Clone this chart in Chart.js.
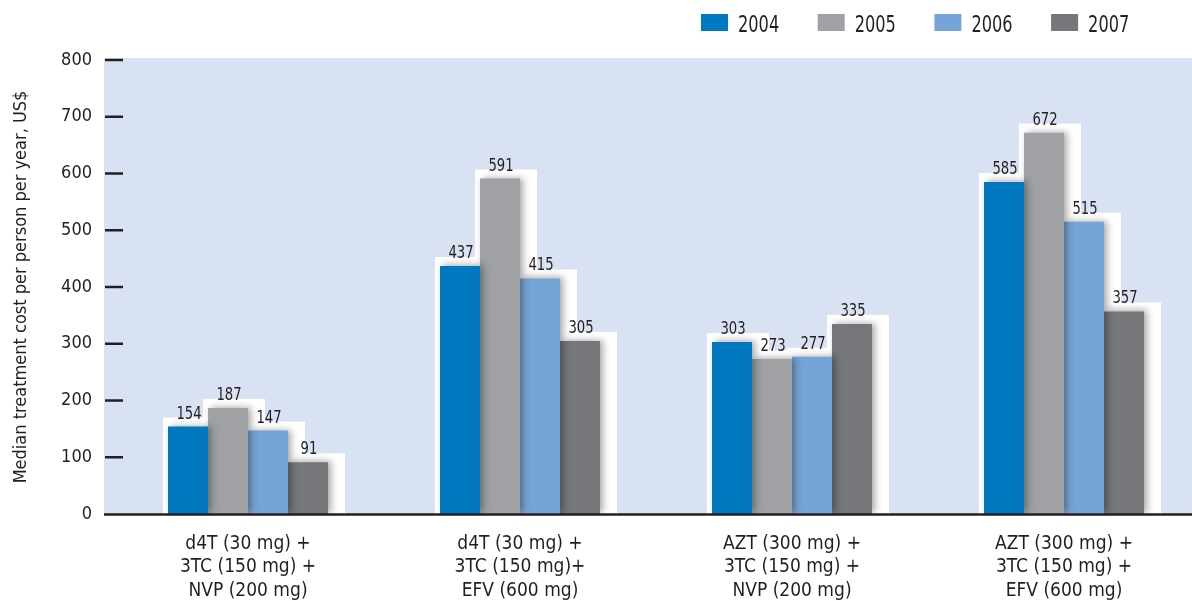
<!DOCTYPE html>
<html><head><meta charset="utf-8">
<script src="https://cdn.jsdelivr.net/npm/chart.js@4.4.1/dist/chart.umd.min.js"></script>
<style>
html,body{margin:0;padding:0;background:#fff;overflow:hidden;width:1192px;height:601px}
#wrap{position:absolute;left:0;top:0;width:1200px;height:601px}
</style></head>
<body><div id="wrap"><canvas id="c" width="1200" height="601"></canvas></div>
<script>
const categories = [
  ['d4T (30 mg) +', '3TC (150 mg) +', 'NVP (200 mg)'],
  ['d4T (30 mg) +', '3TC (150 mg)+', 'EFV (600 mg)'],
  ['AZT (300 mg) +', '3TC (150 mg) +', 'NVP (200 mg)'],
  ['AZT (300 mg) +', '3TC (150 mg) +', 'EFV (600 mg)']
];
const years = ['2004', '2005', '2006', '2007'];
const v2004 = [154, 437, 303, 585];
const v2005 = [187, 591, 273, 672];
const v2006 = [147, 415, 277, 515];
const v2007 = [91, 305, 335, 357];
const yMin = 0, yMax = 800, yStep = 100;
const yTitle = 'Median treatment cost per person per year, US$';

const colors = ['#0079c1', '#a0a1a4', '#75a5d6', '#76777b'];
const INK = '#231f20';
const CONDENSED = "'DejaVu Sans Condensed', 'Liberation Sans Narrow', sans-serif";

const series = [v2004, v2005, v2006, v2007];

function squeezedText(ctx, text, x, y, sx) {
  ctx.save();
  ctx.translate(x, y);
  ctx.scale(sx, 1);
  ctx.fillText(text, 0, 0);
  ctx.restore();
}

const deco = {
  id: 'deco',
  beforeDraw(chart) {
    const {ctx, chartArea: a} = chart;
    ctx.save();
    ctx.fillStyle = '#d9e2f2';
    ctx.fillRect(104, a.top - 2, chart.width - 104, a.bottom - a.top + 2);
    ctx.restore();
  },
  beforeDatasetsDraw(chart) {
    const {ctx} = chart;
    ctx.save();
    ctx.fillStyle = '#ffffff';
    chart.data.datasets.forEach((ds, i) => {
      chart.getDatasetMeta(i).data.forEach(el => {
        const l = el.x - el.width / 2 - 5;
        const r = el.x + el.width / 2 + 17;
        const t = el.y - 9;
        ctx.fillRect(l, t, r - l, el.base - t);
      });
    });
    ctx.restore();
  },
  beforeDatasetDraw(chart) {
    const {ctx} = chart;
    ctx.save();
    ctx.shadowColor = 'rgba(0,0,0,0.35)';
    ctx.shadowBlur = 7;
    ctx.shadowOffsetX = 3;
    ctx.shadowOffsetY = -1;
  },
  afterDatasetDraw(chart) {
    chart.ctx.restore();
  },
  afterDatasetsDraw(chart) {
    const {ctx} = chart;
    const y = chart.scales.y;
    ctx.save();
    ctx.strokeStyle = INK;
    ctx.lineWidth = 2.5;
    const y0 = y.getPixelForValue(0);
    ctx.beginPath();
    ctx.moveTo(104, y0 + 0.5);
    ctx.lineTo(chart.width, y0 + 0.5);
    ctx.stroke();
    y.ticks.forEach(t => {
      if (t.value === 0) return;
      const py = y.getPixelForValue(t.value);
      ctx.beginPath();
      ctx.moveTo(105, py);
      ctx.lineTo(123, py);
      ctx.stroke();
    });
    ctx.fillStyle = INK;
    ctx.font = "17.5px " + CONDENSED;
    ctx.textAlign = 'center';
    ctx.textBaseline = 'alphabetic';
    chart.data.datasets.forEach((ds, i) => {
      chart.getDatasetMeta(i).data.forEach((el, j) => {
        squeezedText(ctx, String(ds.data[j]), el.x + 1, el.y - 8, 0.84);
      });
    });
    ctx.restore();
  },
  afterDraw(chart) {
    const {ctx} = chart;
    ctx.save();
    ctx.font = "22.5px " + CONDENSED;
    ctx.textAlign = 'left';
    ctx.textBaseline = 'alphabetic';
    chart.data.datasets.forEach((ds, i) => {
      const bx = 701 + i * 116.7;
      ctx.fillStyle = ds.backgroundColor;
      ctx.fillRect(bx, 14, 27, 17);
      ctx.fillStyle = INK;
      squeezedText(ctx, ds.label, bx + 37, 31.5, 0.8);
    });
    ctx.restore();
  }
};

new Chart(document.getElementById('c'), {
  type: 'bar',
  data: {
    labels: categories,
    datasets: years.map((yr, i) => ({
      label: yr,
      data: series[i],
      backgroundColor: colors[i],
      borderWidth: 0,
      categoryPercentage: 160 / 272,
      barPercentage: 1
    }))
  },
  options: {
    responsive: false,
    animation: false,
    devicePixelRatio: 1,
    layout: {padding: {top: 60, left: 0, right: 0, bottom: 0}},
    plugins: {legend: {display: false}, tooltip: {enabled: false}},
    scales: {
      x: {
        offset: true,
        grid: {display: false, drawTicks: false},
        border: {display: false},
        ticks: {
          color: INK,
          font: {family: CONDENSED, size: 19, lineHeight: 1.24},
          padding: 18,
          maxRotation: 0,
          autoSkip: false
        },
        afterFit(s) { s.height = 87; }
      },
      y: {
        min: yMin, max: yMax,
        grid: {display: false, drawTicks: false},
        border: {display: false},
        ticks: {
          stepSize: yStep,
          color: INK,
          font: {family: CONDENSED, size: 18},
          padding: 20
        },
        title: {
          display: true,
          text: yTitle,
          color: INK,
          font: {family: CONDENSED, size: 18},
          padding: {top: 11, bottom: 0}
        },
        afterFit(s) { s.width = 112; }
      }
    }
  },
  plugins: [deco]
});
</script>
</body></html>
